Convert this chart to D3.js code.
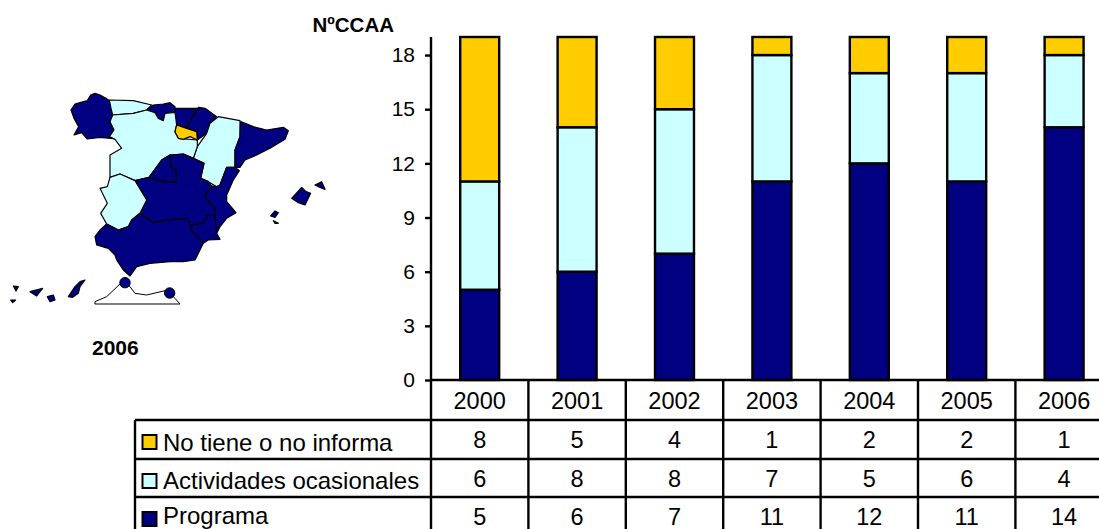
<!DOCTYPE html>
<html><head><meta charset="utf-8">
<script src="https://cdnjs.cloudflare.com/ajax/libs/d3/7.8.5/d3.min.js"></script>
<style>html,body{margin:0;padding:0;background:#fff;overflow:hidden}svg{display:block}text{font-family:"Liberation Sans",Arial,sans-serif;fill:#000}</style>
</head><body><div id="c"></div>
<script>
const years=["2000","2001","2002","2003","2004","2005","2006"];
const programa=[5,6,7,11,12,11,14];
const ocasionales=[6,8,8,7,5,6,4];
const noInforma=[8,5,4,1,2,2,1];
const seriesNames=["No tiene o no informa","Actividades ocasionales","Programa"];
const seriesColors=["#FFCC00","#CCFFFF","#000080"];
const yTicks=[0,3,6,9,12,15,18];
const mapColors={d:"#000080",c:"#CCFFFF",y:"#FFCC00"};
const regions=[
["d",[[213,90],[225,72],[240,68],[262,62],[272,45],[285,40],[300,45],[318,55],[328,62],[333,85],[338,105],[330,125],[342,150],[328,170],[340,176],[300,172],[262,177],[245,158],[222,165],[236,140],[222,115]]],
["c",[[328,60],[400,62],[455,75],[440,90],[400,100],[338,105],[333,85]]],
["d",[[442,88],[460,75],[490,72],[510,68],[525,80],[525,97],[495,100],[490,122],[475,115],[465,98],[442,97]]],
["d",[[525,85],[550,85],[590,85],[575,115],[560,145],[530,135],[525,105]]],
["d",[[595,82],[615,85],[650,110],[630,130],[620,160],[592,180],[590,155],[560,145],[575,115]]],
["c",[[655,110],[720,122],[720,170],[705,210],[705,262],[680,262],[660,315],[650,320],[625,305],[602,295],[612,250],[580,235],[592,200],[620,160],[630,130]]],
["d",[[722,125],[760,140],[800,150],[850,142],[865,152],[855,178],[810,205],[770,225],[735,240],[720,262],[705,262],[705,210],[720,170]]],
["c",[[338,105],[400,100],[440,90],[465,98],[475,115],[490,122],[495,100],[525,97],[530,135],[525,155],[535,175],[592,180],[592,200],[580,235],[550,222],[510,225],[485,240],[447,292],[405,302],[360,282],[330,292],[330,225],[365,205],[345,178],[328,170],[342,150],[330,125]]],
["y",[[530,135],[560,145],[590,155],[592,180],[570,170],[550,178],[535,175],[525,155]]],
["d",[[510,225],[550,222],[580,235],[612,250],[602,295],[625,305],[635,318],[615,350],[645,385],[645,405],[622,405],[610,430],[572,435],[560,415],[500,420],[460,428],[420,400],[440,360],[405,302],[447,292],[495,305],[528,305],[528,268],[512,262]]],
["d",[[510,225],[512,262],[528,268],[528,305],[495,305],[447,292],[485,240]]],
["c",[[330,292],[360,282],[405,302],[440,360],[420,400],[395,420],[385,440],[355,450],[320,432],[302,400],[322,370],[300,325],[322,320]]],
["d",[[320,432],[355,450],[385,440],[395,420],[420,400],[460,428],[500,420],[560,415],[572,435],[575,452],[610,490],[585,540],[550,545],[510,545],[450,550],[410,560],[390,588],[370,570],[350,540],[345,525],[325,505],[290,495],[285,470],[300,450]]],
["d",[[572,435],[610,430],[622,405],[645,405],[650,460],[660,478],[625,480],[610,490],[575,452]]],
["d",[[680,262],[705,262],[718,272],[700,300],[680,345],[680,365],[708,398],[680,415],[660,440],[650,460],[645,405],[645,385],[615,350],[635,318],[650,320],[660,315]]],
["d",[[875,355],[905,322],[918,335],[932,340],[915,375],[895,368]]],
["d",[[945,315],[965,305],[975,328],[960,322]]],
["d",[[812,408],[825,393],[835,398],[825,412]]],
["d",[[820,422],[835,430],[825,430]]],
["d",[[205,650],[225,620],[240,605],[255,600],[240,620],[235,640],[218,652]]],
["d",[[142,650],[160,645],[165,660],[150,665]]],
["d",[[90,635],[128,625],[110,648]]],
["d",[[40,618],[55,620],[48,633]]],
["d",[[32,660],[47,660],[38,668]]]
];
const insetLine=[[285,672],[285,665],[320,650],[360,612],[375,608],[390,620],[405,640],[440,645],[495,632],[509,639],[525,655],[540,672],[285,672]];
const enclaves=[[375,608],[509,639]];

const W=1099,H=529;
const svg=d3.select("#c").append("svg").attr("width",W).attr("height",H);
const x=d3.scaleBand().domain(years).range([431,1112.8]).paddingInner(0.6).paddingOuter(0.3);
const y=d3.scaleLinear().domain([0,19]).range([380,37]);
const stack=d3.stack().keys([0,1,2])(years.map((_,i)=>[programa[i],ocasionales[i],noInforma[i]]));
const stackColors=[seriesColors[2],seriesColors[1],seriesColors[0]];
const bw=x.bandwidth();
stack.forEach((s,k)=>{
  svg.append("g").selectAll("rect").data(s).join("rect")
    .attr("x",(d,i)=>x(years[i])).attr("width",bw)
    .attr("y",d=>y(d[1])).attr("height",d=>y(d[0])-y(d[1]))
    .attr("fill",stackColors[k]).attr("stroke","#000").attr("stroke-width",2.4);
});
const ax=d3.axisLeft(y).tickValues(yTicks).tickSize(6).tickPadding(10);
const gy=svg.append("g").attr("transform","translate(431,0)").call(ax);
gy.selectAll("path,line").attr("stroke","#000").attr("stroke-width",2.4);
gy.select(".domain").attr("d","M0,37V380");
gy.selectAll("text").style("font-family",'"Liberation Sans",Arial,sans-serif').style("font-size","21px").attr("fill","#000");
svg.append("text").attr("x",394).attr("y",32).attr("text-anchor","end").attr("font-weight","bold").attr("font-size","20.5px").text("NºCCAA");
svg.append("text").attr("x",92).attr("y",355).attr("font-weight","bold").attr("font-size","21px").text("2006");

const step=x.step();
const colX=i=>431+i*step;
const rowY=[380,420,459,497,536];
const tbl=svg.append("g").attr("stroke","#000").attr("stroke-width",2.4);
tbl.selectAll(".v").data(d3.range(8)).join("line").attr("x1",colX).attr("x2",colX).attr("y1",380).attr("y2",H+10);
tbl.append("line").attr("x1",431).attr("x2",W+10).attr("y1",rowY[0]).attr("y2",rowY[0]);
rowY.slice(1,4).forEach(r=>tbl.append("line").attr("x1",135).attr("x2",W+10).attr("y1",r).attr("y2",r));
tbl.append("line").attr("x1",135).attr("x2",135).attr("y1",420).attr("y2",H+10);
const rows=[noInforma,ocasionales,programa];
const numBase=[448,487,525];
const labelBase=[451,489,524];
years.forEach((yr,i)=>{
  const cx=colX(i)+step/2;
  svg.append("text").attr("x",cx).attr("y",408.5).attr("text-anchor","middle").attr("font-size","23.5px").text(yr);
  rows.forEach((r,k)=>svg.append("text").attr("x",cx).attr("y",numBase[k]).attr("text-anchor","middle").attr("font-size","23.5px").text(r[i]));
});
seriesNames.forEach((n,k)=>{
  svg.append("rect").attr("x",142.5).attr("y",[435,474,512][k]).attr("width",14).attr("height",14).attr("fill",seriesColors[k]).attr("stroke","#000").attr("stroke-width",2);
  svg.append("text").attr("x",163).attr("y",labelBase[k]).attr("font-size","24px").text(n);
});

const mx=d3.scaleLinear().domain([0,1020]).range([0,340]);
const my=d3.scaleLinear().domain([0,720]).range([80,320]);
const line=d3.line().x(d=>mx(d[0])).y(d=>my(d[1]));
const m=svg.append("g");
m.append("path").attr("d",line(insetLine)).attr("fill","none").attr("stroke","#000").attr("stroke-width",1);
regions.forEach(([c,pts])=>m.append("path").attr("d",line(pts)+"Z").attr("fill",mapColors[c]).attr("stroke","#000").attr("stroke-width",1.2).attr("stroke-linejoin","round"));
m.selectAll("circle").data(enclaves).join("circle").attr("cx",d=>mx(d[0])).attr("cy",d=>my(d[1])).attr("r",5.2).attr("fill","#000080").attr("stroke","#000").attr("stroke-width",1);
</script></body></html>
